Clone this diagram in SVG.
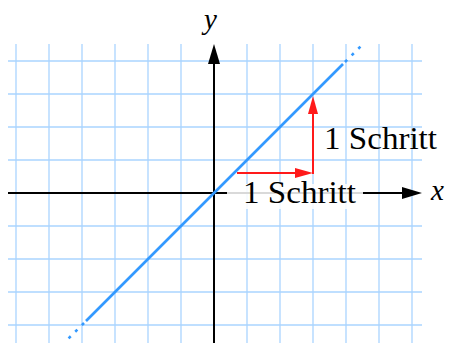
<svg xmlns="http://www.w3.org/2000/svg" width="449" height="343" viewBox="0 0 449 343">
  <style>
    .grid line { stroke: #aad4ff; stroke-width: 1.3; }
    .axis { stroke: #000; stroke-width: 2; fill: none; }
    .red { stroke: #ff1a1a; stroke-width: 2; fill: none; }
    .blue { stroke: #3399ff; stroke-width: 2.6; fill: none; }
    .dots { stroke: #3399ff; stroke-width: 2.6; fill: none; stroke-dasharray: 3 6.4; }
    .lbl { font-family: "Liberation Serif", "DejaVu Serif", serif; font-size: 31px; fill: #000; }
    .var { font-family: "Liberation Serif", "DejaVu Serif", serif; font-size: 29px; font-style: italic; fill: #000; }
  </style>
  <defs>
    <marker id="arrBlack" markerUnits="userSpaceOnUse" markerWidth="20" markerHeight="12" refX="10" refY="6" orient="auto">
      <path d="M0,0 L20,6 L0,12 z" fill="#000"/>
    </marker>
    <marker id="arrRed" markerUnits="userSpaceOnUse" markerWidth="18" markerHeight="10" refX="13" refY="5" orient="auto">
      <path d="M0,0 L18,5 L0,10 z" fill="#ff1a1a"/>
    </marker>
  </defs>
  <rect width="449" height="343" fill="#fff"/>
  <g id="grid" class="grid">
    <line x1="16" y1="44" x2="16" y2="343"/>
    <line x1="49" y1="44" x2="49" y2="343"/>
    <line x1="82" y1="44" x2="82" y2="343"/>
    <line x1="115" y1="44" x2="115" y2="343"/>
    <line x1="148" y1="44" x2="148" y2="343"/>
    <line x1="181" y1="44" x2="181" y2="343"/>
    <line x1="247" y1="44" x2="247" y2="343"/>
    <line x1="280" y1="44" x2="280" y2="343"/>
    <line x1="313" y1="44" x2="313" y2="343"/>
    <line x1="346" y1="44" x2="346" y2="343"/>
    <line x1="379" y1="44" x2="379" y2="343"/>
    <line x1="412" y1="44" x2="412" y2="343"/>
    <line x1="8" y1="61" x2="422" y2="61"/>
    <line x1="8" y1="94" x2="422" y2="94"/>
    <line x1="8" y1="127" x2="422" y2="127"/>
    <line x1="8" y1="160" x2="422" y2="160"/>
    <line x1="8" y1="226" x2="422" y2="226"/>
    <line x1="8" y1="259" x2="422" y2="259"/>
    <line x1="8" y1="292" x2="422" y2="292"/>
    <line x1="8" y1="325" x2="422" y2="325"/>
  </g>
  <g id="connectors">
    <line id="x-axis" class="axis" x1="8" y1="193" x2="412" y2="193" marker-end="url(#arrBlack)"/>
    <line id="y-axis" class="axis" x1="214" y1="343" x2="214" y2="54" marker-end="url(#arrBlack)"/>
    <line id="graph" class="blue" x1="86" y1="321" x2="343" y2="64"/>
    <line id="graph-ext-top" class="dots" x1="345" y1="62" x2="364" y2="43"/>
    <line id="graph-ext-bottom" class="dots" x1="84" y1="323" x2="65" y2="342"/>
    <line id="step-h" class="red" x1="237" y1="173" x2="308" y2="173" marker-end="url(#arrRed)"/>
    <line id="step-v" class="red" x1="313" y1="174" x2="313" y2="101" marker-end="url(#arrRed)"/>
  </g>
  <g id="label-step-h">
    <rect x="227" y="184" width="136" height="25" fill="#fff" fill-opacity="0.85"/>
    <text class="lbl" x="243" y="203" textLength="113" lengthAdjust="spacingAndGlyphs">1 Schritt</text>
  </g>
  <g id="label-step-v">
    <text class="lbl" x="324" y="149" textLength="113" lengthAdjust="spacingAndGlyphs">1 Schritt</text>
  </g>
  <g id="label-x">
    <text class="var" x="431" y="200">x</text>
  </g>
  <g id="label-y">
    <text class="var" x="204" y="29">y</text>
  </g>
</svg>
